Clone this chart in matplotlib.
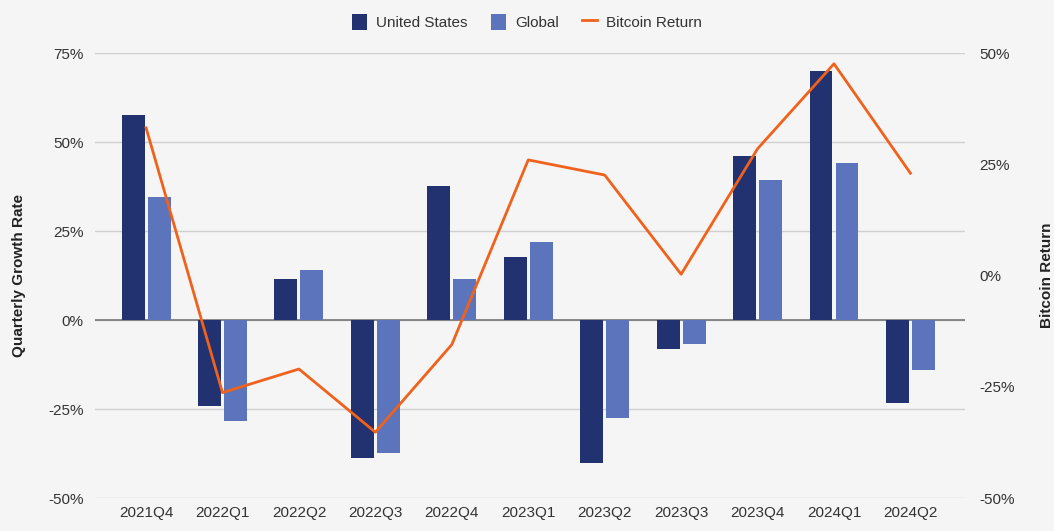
import numpy as np
import matplotlib.pyplot as plt
from matplotlib.ticker import FuncFormatter

plt.rcParams['font.family'] = ['Liberation Sans', 'DejaVu Sans']

quarters = ['2021Q4', '2022Q1', '2022Q2', '2022Q3', '2022Q4', '2023Q1',
            '2023Q2', '2023Q3', '2023Q4', '2024Q1', '2024Q2']
us = [57.5, -24.2, 11.5, -38.7, 37.6, 17.8, -40.2, -8.1, 46.0, 69.9, -23.4]
glob = [34.6, -28.4, 14.0, -37.4, 11.5, 21.9, -27.6, -6.8, 39.3, 44.1, -13.9]
btc = [33.2, -26.3, -21.0, -35.2, -15.5, 26.0, 22.6, 0.3, 28.5, 47.6, 23.0]

bg = '#f5f5f5'
c_us, c_gl, c_btc = '#223170', '#5b74bc', '#f0621c'
txt = '#333333'

fig = plt.figure(figsize=(10.54, 5.31), dpi=100, facecolor=bg)
ax = fig.add_axes([0.090, 0.062, 0.826, 0.838], facecolor=bg)
ax2 = ax.twinx()

x = np.arange(len(quarters))
w = 0.30
b1 = ax.bar(x - 0.17, us, w, color=c_us, label='United States', zorder=3)
b2 = ax.bar(x + 0.17, glob, w, color=c_gl, label='Global', zorder=3)
ln, = ax2.plot(x, btc, color=c_btc, lw=2, label='Bitcoin Return', zorder=4)

ax.set_xlim(-0.67, 10.72)
ax.set_ylim(-50, 75)
ax2.set_ylim(-50, 50)
ax.set_yticks([-50, -25, 0, 25, 50, 75])
ax2.set_yticks([-50, -25, 0, 25, 50])
pct = FuncFormatter(lambda v, p: f'{v:.0f}%')
ax.yaxis.set_major_formatter(pct)
ax2.yaxis.set_major_formatter(pct)

ax.set_xticks(x)
ax.set_xticklabels(quarters)
for a in (ax, ax2):
    for s in a.spines.values():
        s.set_visible(False)
    a.tick_params(length=0, labelsize=11, colors=txt)
ax.tick_params(axis='y', pad=8)
ax2.tick_params(axis='y', pad=10)
ax.tick_params(axis='x', pad=6)

ax.grid(axis='y', color='#d0d0d0', lw=1, zorder=0)
ax.axhline(0, color='#777777', lw=1.2, zorder=2)
ax.set_axisbelow(True)

ax.set_ylabel('Quarterly Growth Rate', fontsize=11, fontweight='bold', color='#222222', labelpad=16)
ax2.set_ylabel('Bitcoin Return', fontsize=11, fontweight='bold', color='#222222', labelpad=18)

fig.legend(handles=[b1, b2, ln], loc='upper center', bbox_to_anchor=(0.5, 1.0),
           ncol=3, frameon=False, fontsize=11, handlelength=1.0, handleheight=1.3,
           columnspacing=1.5, handletextpad=0.6, labelcolor=txt)

fig.savefig('out.png', dpi=100, facecolor=bg)
